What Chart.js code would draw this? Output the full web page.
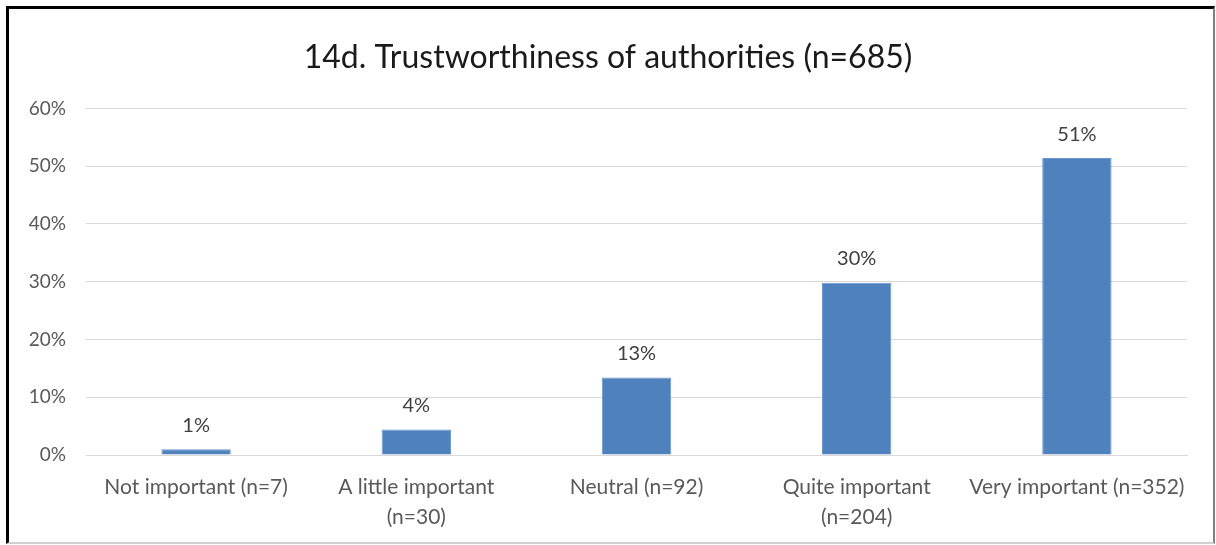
<!DOCTYPE html>
<html>
<head>
<meta charset="utf-8">
<script src="https://cdn.jsdelivr.net/npm/chart.js@4.4.1/dist/chart.umd.min.js"></script>
<style>
  html, body { margin: 0; padding: 0; background: #ffffff; }
  #frame {
    position: absolute; left: 6px; top: 6px; width: 1209px; height: 538px;
    border-left: 3px solid #000; border-top: 3px solid #000;
    border-right: 2px solid #7f7f7f; border-bottom: 2px solid #d0d0d0;
    box-sizing: border-box;
  }
  #wrap { position: absolute; left: 0; top: 0; width: 1216px; height: 545px; }
</style>
</head>
<body>
<div id="frame"></div>
<div id="wrap"><canvas id="c" width="1216" height="545"></canvas></div>
<script>
// Share of respondents per answer (%), with counts in the category labels
const categories = [
  ['Not important (n=7)'],
  ['A little important', '(n=30)'],
  ['Neutral (n=92)'],
  ['Quite important', '(n=204)'],
  ['Very important (n=352)']
];
const shares = [1.0, 4.4, 13.4, 29.8, 51.4];
const yTicks = [0, 10, 20, 30, 40, 50, 60];
const chartTitle = '14d. Trustworthiness of authorities (n=685)';

const FONT = 'Lato, "Open Sans", sans-serif';

// Writes the rounded percentage above each bar
const barValueLabels = {
  id: 'barValueLabels',
  afterDatasetsDraw(chart) {
    const ctx = chart.ctx;
    const meta = chart.getDatasetMeta(0);
    ctx.save();
    ctx.font = '20px ' + FONT;
    ctx.fillStyle = '#404040';
    ctx.textAlign = 'center';
    ctx.textBaseline = 'middle';
    meta.data.forEach((bar, i) => {
      const v = chart.data.datasets[0].data[i];
      ctx.fillText(Math.round(v) + '%', bar.x, bar.y - 24);
    });
    ctx.restore();
  }
};

new Chart(document.getElementById('c'), {
  type: 'bar',
  data: {
    labels: categories,
    datasets: [{
      data: shares,
      backgroundColor: '#4f81bd',
      borderColor: '#6a96cc',
      borderWidth: 1,
      categoryPercentage: 1,
      barPercentage: 0.315
    }]
  },
  options: {
    responsive: false,
    animation: false,
    layout: { padding: { left: 29, right: 29, top: 0, bottom: 0 } },
    plugins: {
      legend: { display: false },
      tooltip: { enabled: false },
      title: {
        display: true,
        text: chartTitle,
        color: '#1a1a1a',
        font: { family: FONT, size: 32, weight: 'normal', lineHeight: 1.2 },
        padding: { top: 38, bottom: 32 }
      }
    },
    scales: {
      y: {
        min: 0,
        max: 60,
        afterBuildTicks(scale) { scale.ticks = yTicks.map(v => ({ value: v })); },
        afterFit(scale) { scale.width = 57; },
        grid: { color: '#d9d9d9', lineWidth: 1, drawTicks: false },
        border: { display: false },
        ticks: {
          padding: 20,
          color: '#595959',
          font: { family: FONT, size: 19 },
          callback: v => v + '%'
        }
      },
      x: {
        afterFit(scale) { scale.height = 90; },
        grid: { display: false, drawTicks: false },
        border: { display: true, color: '#d9d9d9', width: 1 },
        ticks: {
          padding: 18,
          color: '#595959',
          font: { family: FONT, size: 21, lineHeight: 1.4 },
          maxRotation: 0,
          autoSkip: false
        }
      }
    }
  },
  plugins: [barValueLabels]
});
</script>
</body>
</html>
